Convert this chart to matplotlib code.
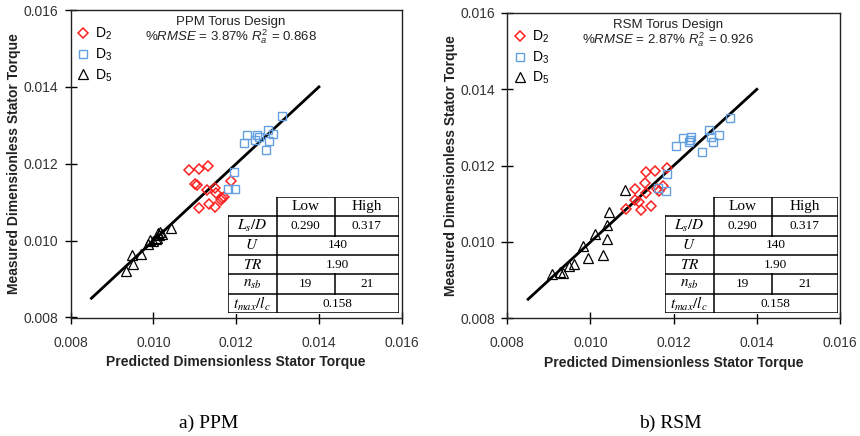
import matplotlib
matplotlib.use("Agg")
import matplotlib.pyplot as plt

plt.rcParams['font.family'] = ['Liberation Sans', 'DejaVu Sans']
plt.rcParams['mathtext.fontset'] = 'custom'
plt.rcParams['mathtext.rm'] = 'Liberation Sans'
plt.rcParams['mathtext.it'] = 'Liberation Sans:italic'

# ---------------- data ----------------
ppm_d2_pred = [0.01087, 0.01111, 0.01132, 0.01100, 0.01106, 0.01130, 0.01149, 0.01150,
               0.01166, 0.01170, 0.01163, 0.01187, 0.01111, 0.01135, 0.01149]
ppm_d2_meas = [0.01184, 0.01187, 0.01195, 0.01148, 0.01146, 0.01131, 0.01138, 0.01125,
               0.01111, 0.01113, 0.01106, 0.01155, 0.01086, 0.01094, 0.01087]
ppm_d3_pred = [0.01311, 0.01227, 0.01250, 0.01220, 0.01245, 0.01255, 0.01277, 0.01290,
               0.01280, 0.01272, 0.01195, 0.01179, 0.01197]
ppm_d3_meas = [0.01325, 0.01274, 0.01274, 0.01254, 0.01262, 0.01269, 0.01288, 0.01278,
               0.01258, 0.01236, 0.01178, 0.01135, 0.01135]
ppm_d5_pred = [0.01042, 0.01016, 0.01014, 0.01008, 0.01020, 0.01012, 0.00992, 0.00988,
               0.01000, 0.01005, 0.00969, 0.00947, 0.00950, 0.00934]
ppm_d5_meas = [0.01033, 0.01022, 0.01014, 0.01008, 0.01018, 0.01020, 0.01001, 0.00990,
               0.00998, 0.01003, 0.00966, 0.00962, 0.00938, 0.00921]

rsm_d2_pred = [0.01133, 0.01156, 0.01185, 0.01132, 0.01106, 0.01133, 0.01175, 0.01165,
               0.01106, 0.01116, 0.01085, 0.01121, 0.01145, 0.01160]
rsm_d2_meas = [0.01183, 0.01185, 0.01194, 0.01154, 0.01138, 0.01128, 0.01147, 0.01133,
               0.01111, 0.01104, 0.01086, 0.01085, 0.01093, 0.01140]
rsm_d3_pred = [0.01335, 0.01222, 0.01242, 0.01205, 0.01236, 0.01240, 0.01286, 0.01308,
               0.01294, 0.01290, 0.01268, 0.01185, 0.01163, 0.01181]
rsm_d3_meas = [0.01326, 0.01273, 0.01274, 0.01252, 0.01261, 0.01268, 0.01293, 0.01280,
               0.01261, 0.01275, 0.01237, 0.01177, 0.01142, 0.01133]
rsm_d5_pred = [0.01083, 0.01044, 0.01039, 0.01039, 0.01031, 0.01012, 0.00983, 0.00993,
               0.00960, 0.00949, 0.00927, 0.00907, 0.00935]
rsm_d5_meas = [0.01137, 0.01078, 0.01044, 0.01009, 0.00965, 0.01022, 0.00989, 0.00959,
               0.00941, 0.00937, 0.00922, 0.00916, 0.00920]

fit_line = [0.0085, 0.0140]
ticks = [0.008, 0.010, 0.012, 0.014, 0.016]
tick_labels = ["0.008", "0.010", "0.012", "0.014", "0.016"]

titles = ["PPM Torus Design", "RSM Torus Design"]
stats = [r"%$\it{RMSE}$ = 3.87% $\it{R}^{2}_{a}$ = 0.868",
         r"%$\it{RMSE}$ = 2.87% $\it{R}^{2}_{a}$ = 0.926"]
captions = ["a) PPM", "b) RSM"]
legend_labels = [r"D$_2$", r"D$_3$", r"D$_5$"]

table_header = ["Low", "High"]
table_rows = [r"$L_{s}/D$", r"$U$", r"$TR$", r"$n_{sb}$", r"$t_{max}/l_{c}$"]
table_low = ["0.290", None, None, "19", None]
table_high = ["0.317", None, None, "21", None]
table_span = [None, "140", "1.90", None, "0.158"]

RED = "#ff2020"
BLUE = "#64a0e0"

fig = plt.figure(figsize=(8.6, 4.36), dpi=100)

axes_boxes = [[70.7, 10, 401.7, 317.5], [507.3, 13, 840, 318.3]]
table_boxes = [[228, 196.7, 399, 313.3], [665, 196.7, 838, 313.3]]
caption_x = [209, 670]
W, H = 860.0, 436.0

datasets = [
    (ppm_d2_pred, ppm_d2_meas, ppm_d3_pred, ppm_d3_meas, ppm_d5_pred, ppm_d5_meas),
    (rsm_d2_pred, rsm_d2_meas, rsm_d3_pred, rsm_d3_meas, rsm_d5_pred, rsm_d5_meas),
]

for i in range(2):
    x0, y0, x1, y1 = axes_boxes[i]
    ax = fig.add_axes([x0 / W, 1 - y1 / H, (x1 - x0) / W, (y1 - y0) / H])
    d2x, d2y, d3x, d3y, d5x, d5y = datasets[i]
    ax.plot(fit_line, fit_line, color="black", lw=2.0, zorder=2)
    ax.plot(d2x, d2y, ls="none", marker="D", ms=4.6, mfc="none", mec=RED, mew=1.1,
            label=legend_labels[0], zorder=3)
    ax.plot(d3x, d3y, ls="none", marker="s", ms=6, mfc="none", mec=BLUE, mew=1.0,
            label=legend_labels[1], zorder=3)
    ax.plot(d5x, d5y, ls="none", marker="^", ms=6.5, mfc="none", mec="black", mew=0.9,
            label=legend_labels[2], zorder=3)
    ax.set_xlim(0.008, 0.016)
    ax.set_ylim(0.008, 0.016)
    ax.set_xticks(ticks)
    ax.set_xticklabels(tick_labels)
    ax.set_yticks(ticks)
    ax.set_yticklabels(tick_labels)
    ax.tick_params(direction="inout", length=8, width=1, labelsize=10,
                   labelcolor="#333333")
    ax.tick_params(axis="x", pad=9)
    ax.tick_params(axis="y", pad=5)
    for s in ax.spines.values():
        s.set_linewidth(1.0)
        s.set_color("#222222")
    ax.set_xlabel("Predicted Dimensionless Stator Torque", fontsize=10,
                  fontweight="bold", labelpad=4, color="#222222")
    ax.set_ylabel("Measured Dimensionless Stator Torque", fontsize=10,
                  fontweight="bold", labelpad=1.5, color="#222222")
    ax.text(0.483, 0.962, titles[i], transform=ax.transAxes, ha="center", va="center",
            fontsize=9.5, color="#222222")
    ax.text(0.483, 0.913, stats[i], transform=ax.transAxes, ha="center", va="center",
            fontsize=9.5, color="#222222")
    ax.legend(loc="upper left", bbox_to_anchor=(-0.005, 0.975), frameon=False,
              fontsize=10, handlelength=0.8, handletextpad=0.5, labelspacing=0.3,
              borderaxespad=0.2)

    # table
    tx0, ty0, tx1, ty1 = table_boxes[i]
    tax = fig.add_axes([tx0 / W, 1 - ty1 / H, (tx1 - tx0) / W, (ty1 - ty0) / H])
    tax.set_xlim(0, 1)
    tax.set_ylim(0, 6)
    tax.axis("off")
    c1 = 48.5 / (tx1 - tx0)
    c2 = c1 + 58.3 / (tx1 - tx0)
    lw = 1.1
    tax.fill_between([0, 1], 0, 5, color="white", zorder=0)
    tax.fill_between([c1, 1], 5, 6, color="white", zorder=0)
    tax.plot([0, 1], [0, 0], color="black", lw=lw)
    tax.plot([0, 0], [0, 5], color="black", lw=lw)
    tax.plot([1, 1], [0, 6], color="black", lw=lw)
    tax.plot([c1, 1], [6, 6], color="black", lw=lw)
    tax.plot([c1, c1], [0, 6], color="black", lw=lw)
    for r in range(1, 6):
        tax.plot([0, 1], [r, r], color="black", lw=lw)
    tax.plot([c2, c2], [5, 6], color="black", lw=lw)
    serif = ["Liberation Serif", "DejaVu Serif"]
    tax.text((c1 + c2) / 2, 5.5, table_header[0], ha="center", va="center",
             fontsize=11, family=serif)
    tax.text((c2 + 1) / 2, 5.5, table_header[1], ha="center", va="center",
             fontsize=11, family=serif)
    for k in range(5):
        yc = 4.5 - k
        tax.text(c1 / 2, yc, table_rows[k], ha="center", va="center", fontsize=11,
                 family=serif, math_fontfamily="stix")
        if table_span[k] is not None:
            tax.text((c1 + 1) / 2, yc, table_span[k], ha="center", va="center",
                     fontsize=9.5, family=serif)
        else:
            tax.plot([c2, c2], [yc - 0.5, yc + 0.5], color="black", lw=lw)
            tax.text((c1 + c2) / 2, yc, table_low[k], ha="center", va="center",
                     fontsize=9.5, family=serif)
            tax.text((c2 + 1) / 2, yc, table_high[k], ha="center", va="center",
                     fontsize=9.5, family=serif)

    fig.text(caption_x[i] / W, 1 - 423 / H, captions[i], ha="center", va="center",
             fontsize=14, family=["Liberation Serif", "DejaVu Serif"])

fig.savefig("out.png", dpi=100)
